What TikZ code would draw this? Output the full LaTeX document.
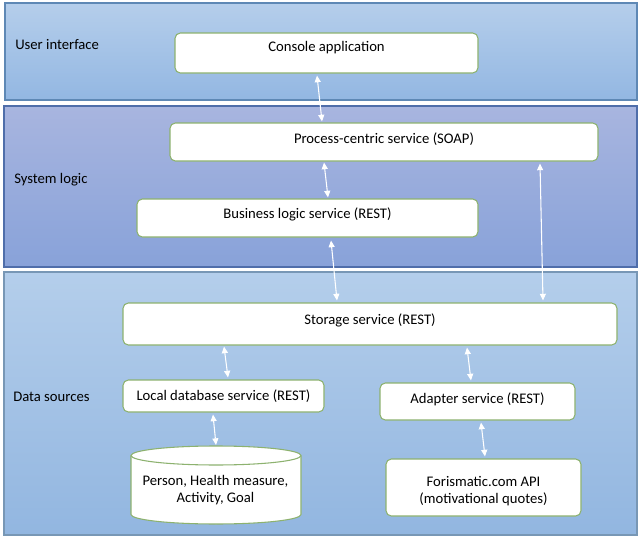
\documentclass[tikz,border=0pt]{standalone}
\usepackage{fontspec}
\setmainfont{Carlito}
\usetikzlibrary{arrows.meta,calc}
\definecolor{uiTop}{HTML}{B5CEEB}
\definecolor{uiBot}{HTML}{93B7E2}
\definecolor{uiLine}{HTML}{5E88B5}
\definecolor{slTop}{HTML}{A8B5DF}
\definecolor{slBot}{HTML}{88A2D9}
\definecolor{slLine}{HTML}{4F6EAA}
\definecolor{dsTop}{HTML}{B4CEEB}
\definecolor{dsBot}{HTML}{92B6E0}
\definecolor{dsLine}{HTML}{7897B5}
\definecolor{boxLine}{HTML}{8DB26F}
\tikzset{
  band/.style={draw, line width=0.9pt},
  svc/.style={draw=boxLine, fill=white, rounded corners=4pt, line width=0.8pt, inner sep=0pt},
  lbl/.style={font=\fontsize{11pt}{13.3pt}\selectfont, inner sep=0pt},
  dbl/.style={draw=white, line width=0.8pt, {Triangle[width=4.5pt,length=5pt,fill=white]}-{Triangle[width=4.5pt,length=5pt,fill=white]}},
}
\begin{document}
\begin{tikzpicture}[x=0.75pt,y=-0.75pt]
\useasboundingbox (0,0) rectangle (640,539);
\fill[white] (0,0) rectangle (640,539);
% bands
\shade[top color=uiTop,bottom color=uiBot] (5,3) rectangle (637,100);
\draw[band,draw=uiLine] (5,3) rectangle (637,100);
\shade[top color=slTop,bottom color=slBot] (4,106) rectangle (637,267);
\draw[band,draw=slLine] (4,106) rectangle (637,267);
\shade[top color=dsTop,bottom color=dsBot] (4,272) rectangle (637,535);
\draw[band,draw=dsLine] (4,272) rectangle (637,535);
% band labels
\node[lbl,anchor=west] (lui) at (15,45) {User interface};
\node[lbl,anchor=west] (lsl) at (14,180) {System logic};
\node[lbl,anchor=west] (lds) at (13,397) {Data sources};
% service boxes
\node[svc, minimum width=227.25pt, minimum height=30pt] (con) at (326.5,53) {};
\node[lbl] at (326.5,48) {Console application};
\node[svc, minimum width=321pt, minimum height=28.5pt] (pro) at (384,142) {};
\node[lbl] at (384,139) {Process-centric service (SOAP)};
\node[svc, minimum width=255.75pt, minimum height=28.5pt] (bus) at (307.5,218) {};
\node[lbl] at (307.5,214) {Business logic service (REST)};
\node[svc, minimum width=370.5pt, minimum height=31.5pt] (sto) at (370,324) {};
\node[lbl] at (370,320) {Storage service (REST)};
\node[svc, minimum width=150.75pt, minimum height=24pt] (loc) at (223.5,396) {};
\node[lbl] at (223.5,396) {Local database service (REST)};
\node[svc, minimum width=146.25pt, minimum height=27.75pt] (ada) at (477.5,401.5) {};
\node[lbl] at (477.5,399) {Adapter service (REST)};
\node[svc, minimum width=146.25pt, minimum height=42.75pt] (for) at (483.5,487.5) {};
\node[lbl,align=center] at (483.5,491) {Forismatic.com API\\(motivational quotes)};
% cylinder
\draw[draw=boxLine, fill=white, line width=0.8pt]
  (131,455.5) -- (131,514.5) arc[start angle=180,end angle=0,x radius=85,y radius=9.5]
  -- (301,455.5) arc[start angle=0,end angle=-180,x radius=85,y radius=9.5] -- cycle;
\draw[draw=boxLine, line width=0.8pt]
  (131,455.5) arc[start angle=180,end angle=0,x radius=85,y radius=9.5];
\coordinate (db) at (216,446);
\node[lbl,align=center] at (215.5,490) {Person, Health measure,\\Activity, Goal};
% connectors
\draw[dbl] ($(con.south)+(-9.5,2)$) -- ($(pro.north)+(-62,-1)$);
\draw[dbl] ($(pro.south)+(-60,1)$) -- ($(bus.north)+(20.5,-1)$);
\draw[dbl] ($(bus.south)+(23.5,3)$) -- ($(sto.north)+(-33,-2)$);
\draw[dbl] ($(pro.south)+(156,2)$) -- ($(sto.north)+(173,-2)$);
\draw[dbl] ($(sto.south)+(-146,1)$) -- ($(loc.north)+(4.5,-2)$);
\draw[dbl] ($(sto.south)+(97,2)$) -- ($(ada.north)+(-6.5,-2)$);
\draw[dbl] ($(loc.south)+(-10.5,2)$) -- ($(db)+(0,-1)$);
\draw[dbl] ($(ada.south)+(3.5,2)$) -- ($(for.north)+(1.5,-2)$);
\end{tikzpicture}
\end{document}
